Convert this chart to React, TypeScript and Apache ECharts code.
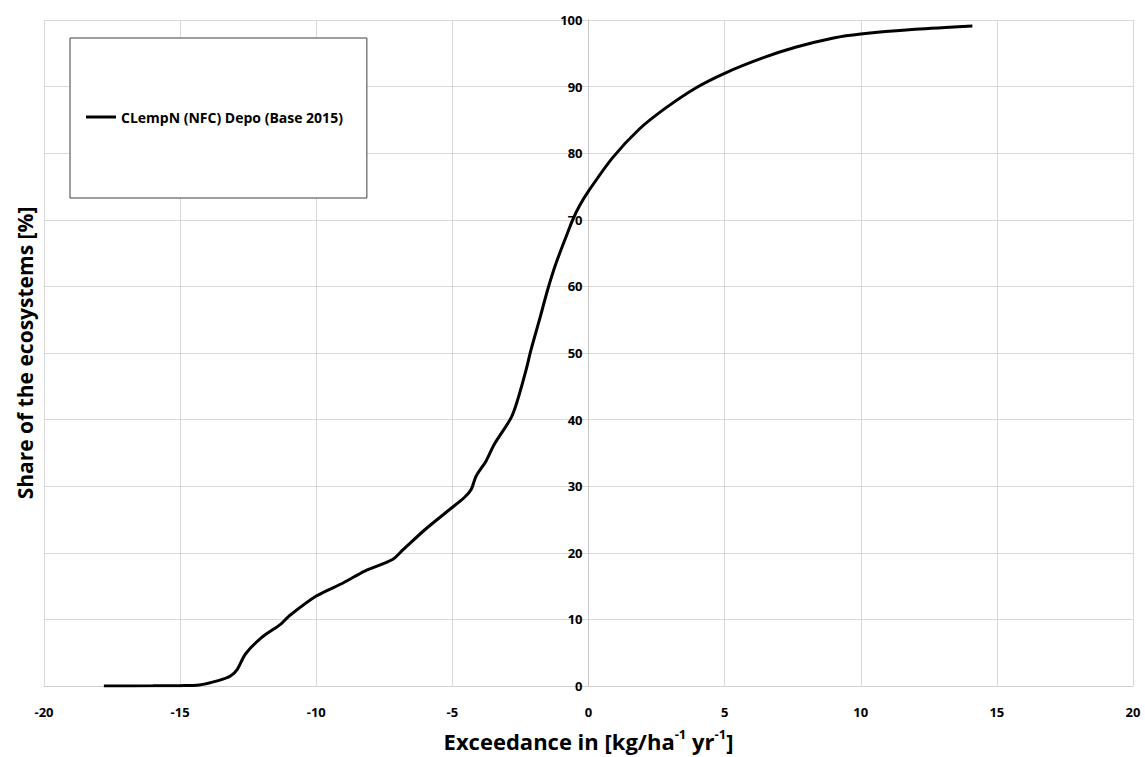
import React, { useEffect, useRef } from "react";
import * as echarts from "echarts";

const seriesName = "CLempN (NFC) Depo (Base 2015)";
const xValues = [
  -17.8, -16, -15, -14.3, -13.6, -13.15, -12.9, -12.6, -12.0, -11.3, -11.0, -10.0, -9.0, -8.2,
  -7.2, -6.8, -6.0, -5.1, -4.56, -4.31, -4.13, -3.76, -3.46, -2.84, -2.6, -2.29, -2.11, -1.8,
  -1.5, -1.19, -0.82, -0.58, -0.33, 0, 0.88, 1.86, 2.84, 3.94, 5.0, 6.4, 7.6, 9.0, 10.0, 12.0, 14.1,
];
const yValues = [
  0, 0.02, 0.05, 0.15, 0.8, 1.5, 2.5, 4.8, 7.3, 9.3, 10.5, 13.5, 15.5, 17.3,
  19.0, 20.5, 23.5, 26.5, 28.3, 29.5, 31.5, 33.8, 36.3, 40.3, 43, 47.5, 50.5, 55,
  59.5, 63.5, 67.5, 70, 72.1, 74.3, 79.3, 83.6, 86.8, 89.8, 92.0, 94.3, 95.9, 97.3, 97.9, 98.6, 99.1,
];
const xAxisTitle = "{a|Exceedance in [kg/ha}{s|-1}{a| yr}{s|-1}{a|]}";
const yAxisTitle = "Share of the ecosystems [%]";

const FONT = "'Open Sans', 'Noto Sans', sans-serif";

export default function App() {
  const ref = useRef<HTMLDivElement>(null);
  useEffect(() => {
    if (!ref.current) return;
    const chart = echarts.init(ref.current, null, { renderer: "svg" });
    const data = xValues.map((x, i) => [x, yValues[i]]);
    const gridLeft = 44;
    const gridRight = 12;
    const plotWidth = 1145 - gridLeft - gridRight;
    chart.setOption({
      animation: false,
      backgroundColor: "#ffffff",
      grid: { left: gridLeft, right: gridRight, top: 20, bottom: 70, containLabel: false },
      legend: {
        show: true,
        left: 70,
        top: 38,
        orient: "vertical",
        data: [{ name: seriesName, icon: "rect" }],
        itemWidth: 30,
        itemHeight: 3,
        itemGap: 0,
        padding: [72, 24, 74, 16],
        borderColor: "#404040",
        borderWidth: 1,
        backgroundColor: "#ffffff",
        textStyle: { fontFamily: FONT, fontWeight: "bold", fontSize: 14, color: "#000" },
      },
      xAxis: {
        type: "value",
        min: -20,
        max: 20,
        interval: 5,
        name: xAxisTitle,
        nameLocation: "middle",
        nameGap: 41,
        nameTextStyle: {
          rich: {
            a: { fontFamily: FONT, fontWeight: "bold", fontSize: 22, color: "#000", lineHeight: 28 },
            s: { fontFamily: FONT, fontWeight: "bold", fontSize: 13, color: "#000", lineHeight: 28, verticalAlign: "top" },
          },
        },
        axisLine: { show: true, onZero: true, lineStyle: { color: "#d0d0d0", width: 1 } },
        axisTick: { show: false },
        axisLabel: { margin: 19, fontFamily: FONT, fontWeight: "bold", fontSize: 13, color: "#000" },
        splitLine: { show: true, lineStyle: { color: "#d9d9d9", width: 1 } },
      },
      yAxis: {
        type: "value",
        min: 0,
        max: 100,
        interval: 10,
        offset: -plotWidth / 2,
        axisLine: { show: true, onZero: false, lineStyle: { color: "#c8c8c8", width: 1 } },
        axisTick: { show: false },
        axisLabel: { margin: 6, fontFamily: FONT, fontWeight: "bold", fontSize: 13, color: "#000" },
        splitLine: { show: true, lineStyle: { color: "#d9d9d9", width: 1 } },
      },
      graphic: [
        {
          type: "text",
          x: 25,
          y: 353,
          rotation: Math.PI / 2,
          style: {
            text: yAxisTitle,
            font: "bold 21px " + FONT,
            fill: "#000",
            textAlign: "center",
            textVerticalAlign: "middle",
            align: "center",
            verticalAlign: "middle",
          },
        },
      ],
      series: [
        {
          name: seriesName,
          type: "line",
          data,
          smooth: 0.3,
          showSymbol: false,
          symbol: "none",
          lineStyle: { color: "#000", width: 3 },
          itemStyle: { color: "#000" },
        },
      ],
    });
    return () => chart.dispose();
  }, []);
  return (
    <div
      ref={ref}
      style={{ position: "absolute", left: 0, top: 0, width: 1145, height: 757 }}
    />
  );
}
